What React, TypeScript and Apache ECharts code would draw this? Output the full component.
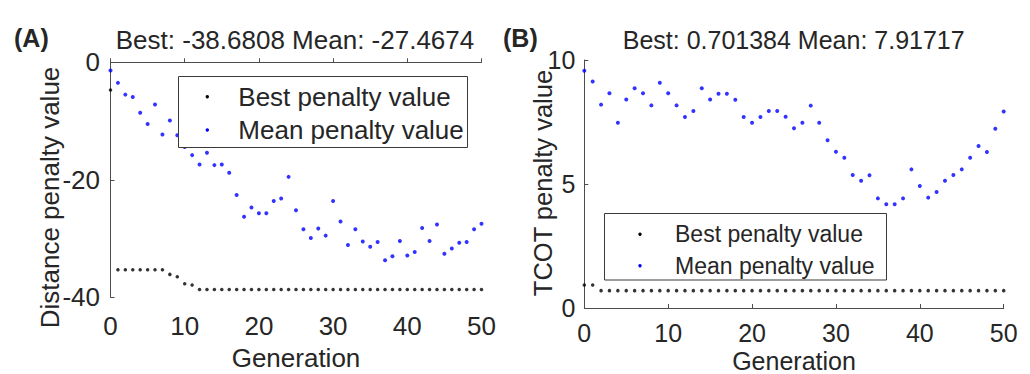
import React, { useEffect, useRef } from "react";
import * as echarts from "echarts";

const FONT = '"Liberation Sans", Arial, Helvetica, sans-serif';
const TXT = "#262626";
const AX = "#4d4d4d";
const C_BEST = "#000000";
const C_MEAN = "#0000ff";

const seriesNames = ["Best penalty value", "Mean penalty value"];

// Panel A: Distance penalty value per generation (0..50)
const bestA = [
  -4.7, -35.3, -35.3, -35.3, -35.3, -35.3, -35.3, -35.3, -36.1, -36.5,
  -37.7, -37.9, -38.68, -38.68, -38.68, -38.68, -38.68, -38.68, -38.68, -38.68,
  -38.68, -38.68, -38.68, -38.68, -38.68, -38.68, -38.68, -38.68, -38.68, -38.68,
  -38.68, -38.68, -38.68, -38.68, -38.68, -38.68, -38.68, -38.68, -38.68, -38.68,
  -38.68, -38.68, -38.68, -38.68, -38.68, -38.68, -38.68, -38.68, -38.68, -38.68,
  -38.68,
];
const meanA = [
  -1.4, -3.5, -5.5, -5.9, -8.6, -10.5, -7.2, -12.3, -9.9, -12.4,
  -14.4, -15.8, -17.4, -15.4, -17.5, -17.4, -18.8, -22.6, -26.3, -24.7,
  -25.7, -25.7, -23.6, -23.2, -19.5, -25.2, -28.4, -29.9, -28.3, -29.5,
  -23.6, -27.1, -31.1, -28.4, -30.5, -31.4, -30.6, -33.7, -33.0, -30.4,
  -32.9, -32.3, -28.2, -30.4, -27.6, -32.6, -31.7, -30.7, -30.6, -28.4,
  -27.47,
];

// Panel B: TCOT penalty value per generation (0..50)
const bestB = [
  0.93, 0.93, 0.7, 0.7, 0.7, 0.7, 0.7, 0.7, 0.7, 0.7,
  0.7, 0.7, 0.7, 0.7, 0.7, 0.7, 0.7, 0.7, 0.7, 0.7,
  0.7, 0.7, 0.7, 0.7, 0.7, 0.7, 0.7, 0.7, 0.7, 0.7,
  0.7, 0.7, 0.7, 0.7, 0.7, 0.7, 0.7, 0.7, 0.7, 0.7,
  0.7, 0.7, 0.7, 0.7, 0.7, 0.7, 0.7, 0.7, 0.7, 0.7,
  0.7,
];
const meanB = [
  9.57, 9.13, 8.2, 8.66, 7.47, 8.41, 8.86, 8.66, 8.17, 9.08,
  8.66, 8.17, 7.7, 7.94, 8.86, 8.41, 8.64, 8.64, 8.4, 7.7,
  7.47, 7.7, 7.94, 7.94, 7.71, 7.25, 7.47, 8.16, 7.47, 6.76,
  6.3, 6.06, 5.36, 5.13, 5.35, 4.42, 4.18, 4.18, 4.42, 5.59,
  4.92, 4.45, 4.68, 5.13, 5.36, 5.59, 6.06, 6.53, 6.29, 7.23,
  7.92,
];

const titleA = "Best: -38.6808 Mean: -27.4674";
const titleB = "Best: 0.701384 Mean: 7.91717";
const yNameA = "Distance penalty value";
const yNameB = "TCOT penalty value";
const xName = "Generation";

const toPairs = (arr: number[]) => arr.map((v, i) => [i, v]);

function txt(text: string, x: number, y: number, size: number, opts: any = {}) {
  return {
    type: "text",
    x,
    y,
    rotation: opts.rotation || 0,
    z: 30,
    style: {
      text,
      fill: TXT,
      fontSize: size,
      fontFamily: FONT,
      fontWeight: opts.bold ? "bold" : "normal",
      align: opts.align || "center",
      verticalAlign: "middle",
      textAlign: opts.align || "center",
      textVerticalAlign: "middle",
    },
  };
}

function legendBox(
  x: number,
  y: number,
  w: number,
  h: number,
  markerX: number,
  textX: number,
  rowY: number[],
  size: number
) {
  const colors = [C_BEST, C_MEAN];
  const els: any[] = [
    {
      type: "rect",
      z: 20,
      shape: { x, y, width: w, height: h },
      style: { fill: "#ffffff", stroke: "#3a3a3a", lineWidth: 1 },
    },
  ];
  seriesNames.forEach((name, i) => {
    els.push({
      type: "circle",
      z: 25,
      shape: { cx: markerX, cy: rowY[i], r: 1.7 },
      style: { fill: colors[i] },
    });
    els.push(txt(name, textX, rowY[i], size, { align: "left" }));
  });
  return els;
}

function xAxisCfg(gridIndex: number, size: number, margin: number) {
  return {
    gridIndex,
    type: "value",
    min: 0,
    max: 50,
    interval: 10,
    axisLine: { show: true, lineStyle: { color: AX, width: 1 } },
    axisTick: { show: true, inside: true, length: 4, lineStyle: { color: AX } },
    axisLabel: { fontSize: size, fontFamily: FONT, color: TXT, margin },
    splitLine: { show: false },
  };
}

function yAxisCfg(gridIndex: number, min: number, max: number, interval: number, size: number, margin: number) {
  return {
    gridIndex,
    type: "value",
    min,
    max,
    interval,
    axisLine: { show: true, lineStyle: { color: AX, width: 1 } },
    axisTick: { show: true, inside: true, length: 4, lineStyle: { color: AX } },
    axisLabel: { fontSize: size, fontFamily: FONT, color: TXT, margin },
    splitLine: { show: false },
  };
}

function scatter(name: string, xi: number, values: number[], color: string, size: number) {
  return {
    name,
    type: "scatter",
    xAxisIndex: xi,
    yAxisIndex: xi,
    symbol: "circle",
    symbolSize: size,
    itemStyle: { color },
    data: toPairs(values),
  };
}

export default function App() {
  const ref = useRef<HTMLDivElement>(null);
  useEffect(() => {
    if (!ref.current) return;
    const chart = echarts.init(ref.current, undefined, { renderer: "svg" });
    const option: any = {
      animation: false,
      backgroundColor: "#ffffff",
      textStyle: { fontFamily: FONT },
      grid: [
        { left: 110.5, top: 62.3, width: 371, height: 235 },
        { left: 584.3, top: 60, width: 419.4, height: 248 },
      ],
      xAxis: [xAxisCfg(0, 26, 15.7), xAxisCfg(1, 25, 12.5)],
      yAxis: [yAxisCfg(0, -40, 0, 20, 26, 10.5), yAxisCfg(1, 0, 10, 5, 25, 9)],
      series: [
        scatter(seriesNames[0], 0, bestA, C_BEST, 3.5),
        scatter(seriesNames[1], 0, meanA, C_MEAN, 4),
        scatter(seriesNames[0], 1, bestB, C_BEST, 3.5),
        scatter(seriesNames[1], 1, meanB, C_MEAN, 4),
      ],
      graphic: [
        txt("(A)", 14, 38, 25, { bold: true, align: "left" }),
        txt("(B)", 503, 38, 25, { bold: true, align: "left" }),
        txt(titleA, 295, 40, 26),
        txt(titleB, 793.7, 40, 25),
        txt(yNameA, 50, 197.5, 26, { rotation: Math.PI / 2 }),
        txt(yNameB, 542.5, 183, 25.5, { rotation: Math.PI / 2 }),
        txt(xName, 296, 358, 26),
        txt(xName, 794, 361, 25),
        ...legendBox(178.5, 76.5, 289, 71, 207.3, 238.3, [96.7, 130], 26),
        ...legendBox(604.5, 213.5, 282, 66.5, 640, 675, [234.3, 265.7], 23),
      ],
    };
    chart.setOption(option);
    return () => chart.dispose();
  }, []);
  return (
    <div
      ref={ref}
      style={{ position: "absolute", left: 0, top: 0, width: 1030, height: 374 }}
    />
  );
}
